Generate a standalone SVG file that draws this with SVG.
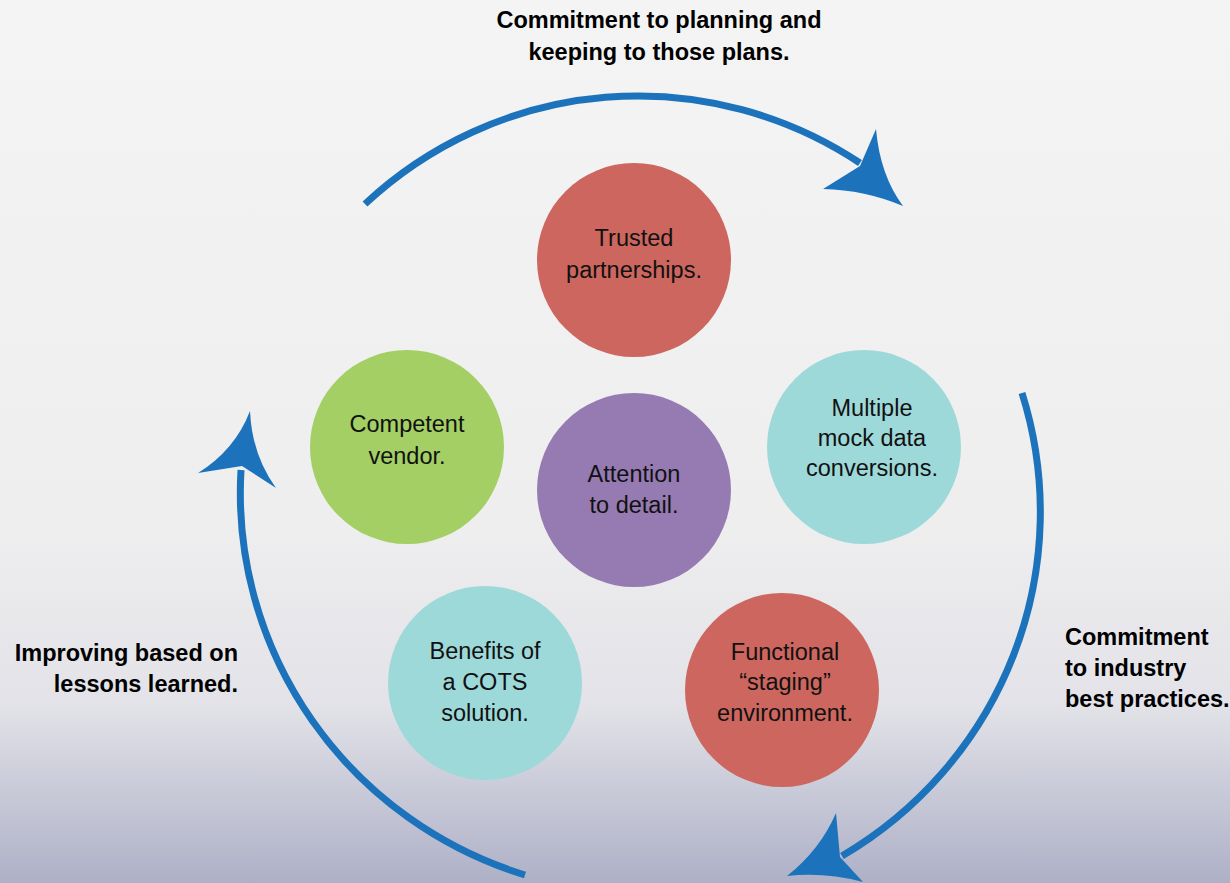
<svg xmlns="http://www.w3.org/2000/svg" width="1230" height="883" viewBox="0 0 1230 883">
<defs>
<linearGradient id="bg" x1="0" y1="0" x2="0" y2="1">
<stop offset="0" stop-color="#f4f4f4"/>
<stop offset="0.6" stop-color="#eeeeef"/>
<stop offset="0.8" stop-color="#e2e2e8"/>
<stop offset="1" stop-color="#aeb0c7"/>
</linearGradient>
</defs>
<style>
.arc{fill:none;stroke:#1c73bc;stroke-width:7}
.head{fill:#1c73bc}
.lbl{font-family:"Liberation Sans",Arial,sans-serif;font-size:23.5px;fill:#111;text-anchor:middle}
.bold{font-family:"Liberation Sans",Arial,sans-serif;font-size:23.5px;font-weight:bold;fill:#000}
.red{fill:#cd665e}.cyan{fill:#9ed9d9}.green{fill:#a3cf64}.purple{fill:#957bb1}
</style>
<rect width="1230" height="883" fill="url(#bg)"/>
<g id="connectors">
<path class="arc" d="M 365 204 A 400 400 0 0 1 860 163"/>
<path class="head" d="M 903 206 Q 880 175 876 129 L 860 166 L 823 189 Q 865 190 903 206 Z"/>
<path class="arc" d="M 1022 393 A 405 400 0 0 1 842 856"/>
<path class="head" d="M 787 876 Q 820 850 836 813 L 840 857 L 863 882 Q 825 872 787 876 Z"/>
<path class="arc" d="M 525 875 A 405 400 0 0 1 241 470"/>
<path class="head" d="M 250 411 Q 252 455 276 488 L 242 466 L 198 473 Q 235 450 250 411 Z"/>
</g>
<g id="label-top"><text class="bold" text-anchor="middle"><tspan x="659" y="28">Commitment to planning and</tspan><tspan x="659" y="60">keeping to those plans.</tspan></text></g>
<g id="label-right"><text class="bold"><tspan x="1065" y="645">Commitment</tspan><tspan x="1065" y="676">to industry</tspan><tspan x="1065" y="707">best practices.</tspan></text></g>
<g id="label-left"><text class="bold" text-anchor="end"><tspan x="238" y="661">Improving based on</tspan><tspan x="238" y="692">lessons learned.</tspan></text></g>
<g id="trusted"><circle class="red" cx="634" cy="260" r="97"/><text class="lbl"><tspan x="634" y="246">Trusted</tspan><tspan x="634" y="278">partnerships.</tspan></text></g>
<g id="competent"><circle class="green" cx="407" cy="447" r="97"/><text class="lbl"><tspan x="407" y="432">Competent</tspan><tspan x="407" y="464">vendor.</tspan></text></g>
<g id="attention"><circle class="purple" cx="634" cy="490" r="97"/><text class="lbl"><tspan x="634" y="482">Attention</tspan><tspan x="634" y="513">to detail.</tspan></text></g>
<g id="multiple"><circle class="cyan" cx="864" cy="447" r="97"/><text class="lbl"><tspan x="872" y="416">Multiple</tspan><tspan x="872" y="446">mock data</tspan><tspan x="872" y="476">conversions.</tspan></text></g>
<g id="benefits"><circle class="cyan" cx="485" cy="683" r="97"/><text class="lbl"><tspan x="485" y="659">Benefits of</tspan><tspan x="485" y="690">a COTS</tspan><tspan x="485" y="721">solution.</tspan></text></g>
<g id="functional"><circle class="red" cx="782" cy="690" r="97"/><text class="lbl"><tspan x="785" y="660">Functional</tspan><tspan x="785" y="690">“staging”</tspan><tspan x="785" y="721">environment.</tspan></text></g>
</svg>
